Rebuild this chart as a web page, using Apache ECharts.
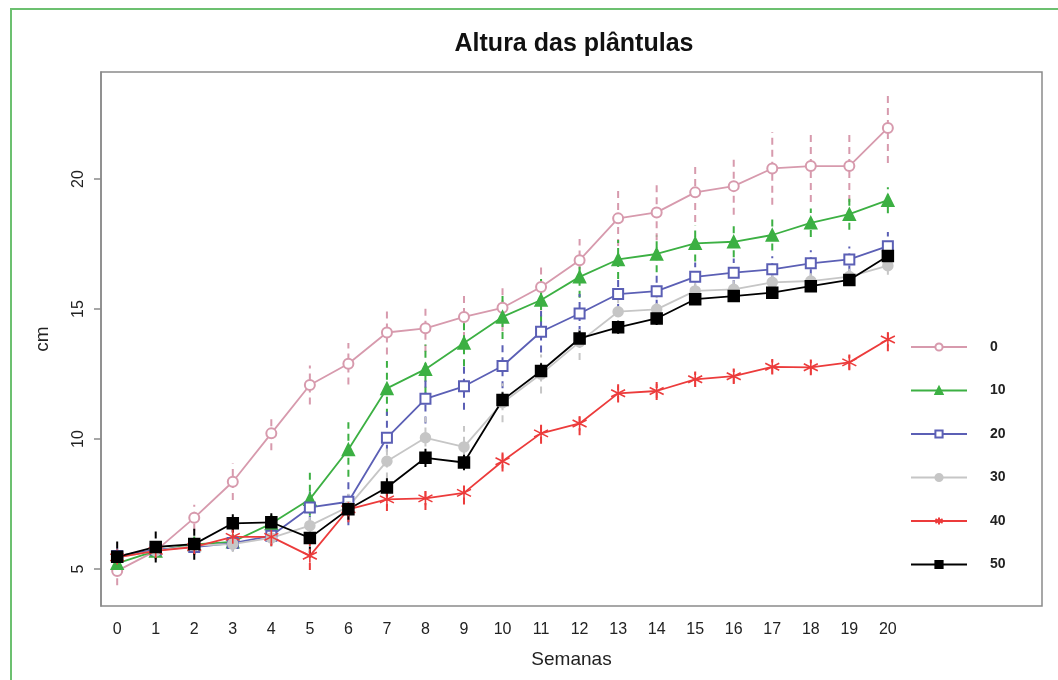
<!DOCTYPE html>
<html>
<head>
<meta charset="utf-8">
<script src="https://cdn.jsdelivr.net/npm/echarts@6/dist/echarts.min.js"></script>
<style>html,body{margin:0;padding:0;background:#fff;}#c{width:1058px;height:680px;}</style>
</head>
<body>
<div id="c"></div>
<script>
const weeks = [0,1,2,3,4,5,6,7,8,9,10,11,12,13,14,15,16,17,18,19,20];
const yTicks = [5,10,15,20];
const treatments = ['0','10','20','30','40','50'];

const mean0  = [4.93,5.70,6.97,8.36,10.22,12.08,12.90,14.10,14.26,14.70,15.05,15.85,16.88,18.49,18.72,19.49,19.73,20.41,20.50,20.50,21.97];
const mean10 = [5.22,5.70,5.95,6.05,6.75,7.69,9.60,11.95,12.69,13.70,14.70,15.35,16.24,16.91,17.12,17.53,17.59,17.85,18.32,18.65,19.19];
const mean20 = [5.50,5.75,5.85,6.00,6.28,7.37,7.59,10.05,11.55,12.03,12.81,14.13,14.83,15.58,15.69,16.24,16.40,16.53,16.76,16.91,17.42];
const mean30 = [5.45,5.70,5.90,5.96,6.20,6.67,7.40,9.15,10.05,9.70,11.40,12.50,13.74,14.90,14.99,15.70,15.76,16.03,16.08,16.25,16.67];
const mean40 = [5.45,5.70,5.85,6.24,6.24,5.51,7.30,7.68,7.72,7.93,9.15,10.22,10.60,11.76,11.85,12.30,12.42,12.78,12.76,12.95,13.83];
const mean50 = [5.47,5.85,5.96,6.76,6.80,6.20,7.30,8.14,9.28,9.10,11.50,12.62,13.87,14.30,14.64,15.38,15.50,15.63,15.88,16.12,17.04];

const err0  = [0.55,0.35,0.50,0.70,0.65,0.75,0.80,0.85,0.90,0.85,0.90,0.90,0.82,1.06,1.07,1.14,1.10,1.40,1.38,1.38,1.35];
const err10 = [0.30,0.30,0.30,0.30,0.40,1.10,1.05,1.05,0.95,0.90,0.85,0.85,0.80,0.75,0.70,0.70,0.60,0.60,0.55,0.60,0.50];
const err20 = [0.30,0.30,0.30,0.30,0.35,0.60,0.90,1.00,0.95,0.90,0.85,0.80,0.75,0.65,0.60,0.55,0.55,0.50,0.50,0.50,0.55];
const err30 = [0.30,0.30,0.30,0.30,0.35,0.40,0.50,0.70,0.80,0.80,0.75,0.75,0.70,0.60,0.50,0.40,0.35,0.35,0.30,0.30,0.35];
const err40 = [0.30,0.30,0.30,0.30,0.35,0.55,0.50,0.45,0.45,0.45,0.40,0.40,0.45,0.35,0.35,0.30,0.30,0.30,0.30,0.30,0.45];
const err50 = [0.60,0.60,0.60,0.35,0.35,0.60,0.40,0.35,0.35,0.30,0.30,0.30,0.30,0.25,0.25,0.20,0.20,0.20,0.20,0.20,0.20];

const means = [mean0,mean10,mean20,mean30,mean40,mean50];
const errs = [err0,err10,err20,err30,err40,err50];
const colors = ['#d79aad','#3cb043','#5b5fb5','#c6c6c6','#ec3b3b','#000000'];
const symbols = ['emptyCircle','triangle','emptyRect','circle','path://M5,0L5,10M0.67,2.5L9.33,7.5M0.67,7.5L9.33,2.5','rect'];
const sizes = [10,12,10,10,14,11];

const series = [];
treatments.forEach((t,k)=>{
  const col = colors[k];
  series.push({
    name: t, type: 'line',
    data: weeks.map((w,i)=>[w, means[k][i]]),
    symbol: symbols[k], symbolSize: sizes[k],
    showAllSymbol: true,
    lineStyle: {color: col, width: 1.8},
    itemStyle: k===4 ? {color: col, borderColor: col, borderWidth: 1.6} : {color: col, borderColor: col, borderWidth: 1.5},
    z: 2
  });
  series.push({
    name: 'err'+t, type: 'custom',
    data: weeks.map((w,i)=>[w, means[k][i]-errs[k][i], means[k][i]+errs[k][i]]),
    encode: {x: 0, y: [1,2]},
    renderItem: function(params, api){
      const x = api.value(0);
      const p1 = api.coord([x, api.value(1)]);
      const p2 = api.coord([x, api.value(2)]);
      return {type:'line', shape:{x1:p1[0],y1:p1[1],x2:p2[0],y2:p2[1]},
        style:{stroke: col, lineWidth: 2, lineDash:[7,5]}};
    },
    z: 2
  });
});

const chart = echarts.init(document.getElementById('c'), null, {renderer:'canvas'});
chart.setOption({
  animation: false,
  backgroundColor: '#fff',
  textStyle: {fontFamily: 'Liberation Sans, Arial, sans-serif'},
  title: {
    text: 'Altura das plântulas', left: 569, top: 27, textAlign: 'center',
    textStyle: {fontSize: 25, fontWeight: 'bold', color: '#111', fontFamily: 'Liberation Sans, Arial, sans-serif'}
  },
  graphic: [{
    type: 'rect', silent: true, z: 0,
    shape: {x: 11, y: 9, width: 1100, height: 700},
    style: {fill: 'none', stroke: '#6cc070', lineWidth: 2}
  }],
  grid: {left: 101, right: 16, top: 72, bottom: 74, show: true, borderColor: '#8a8a8a', borderWidth: 1.5, backgroundColor: 'transparent'},
  legend: {
    data: treatments, orient: 'vertical', left: 910, top: 340, padding: 0,
    itemWidth: 56, itemHeight: 9, itemGap: 29.5, selectedMode: false,
    textStyle: {fontSize: 14, fontWeight: 'bold', color: '#222', padding: [0,0,0,18], lineHeight: 14}
  },
  xAxis: {
    type: 'value', min: -0.42, max: 24.0,
    name: 'Semanas', nameLocation: 'middle', nameGap: 44,
    nameTextStyle: {fontSize: 19, color: '#222'},
    axisLine: {show: false}, axisTick: {show: false}, splitLine: {show: false},
    axisLabel: {customValues: weeks, fontSize: 16, color: '#222', margin: 16}
  },
  yAxis: {
    type: 'value', min: 3.58, max: 24.12,
    name: 'cm', nameLocation: 'middle', nameGap: 49, nameRotate: 90,
    nameTextStyle: {fontSize: 19, color: '#222'},
    axisLine: {show: true, onZero: false, lineStyle: {color: '#8a8a8a', width: 1.5}},
    axisTick: {show: true, customValues: yTicks, length: 7, lineStyle: {color: '#8a8a8a', width: 1.5}},
    axisLabel: {customValues: yTicks, rotate: 90, fontSize: 16, color: '#222', margin: 14},
    splitLine: {show: false}
  },
  series: series
});
</script>
</body>
</html>
